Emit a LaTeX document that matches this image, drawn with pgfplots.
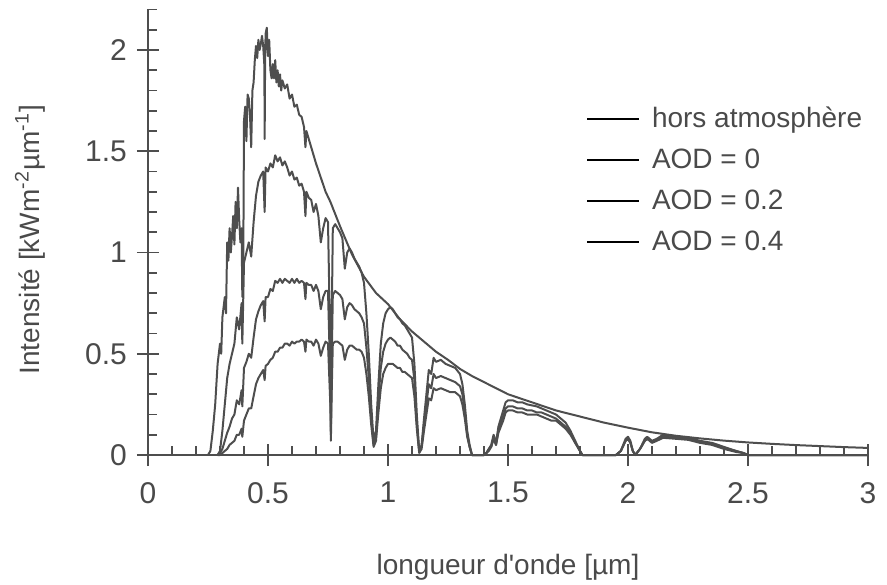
\documentclass[border=0pt]{standalone}
\usepackage{pgfplots}
\pgfplotsset{compat=1.18}
\usepackage{pgfplotstable}
\usepackage{fontspec}
\setmainfont{Liberation Sans}
\definecolor{curve}{HTML}{4E4E4E}
\definecolor{txt}{HTML}{4A4A4A}

\pgfplotstableread{
l     et
0.25  0
0.26  0.02
0.27  0.12
0.28  0.25
0.29  0.45
0.30  0.55
0.305 0.50
0.31  0.68
0.32  0.78
0.325 0.70
0.33  1.05
0.335 0.96
0.34  1.12
0.345 1.00
0.35  1.08
0.355 1.18
0.36  1.04
0.365 1.25
0.37  1.12
0.375 1.32
0.38  1.16
0.385 1.05
0.39  1.12
0.393 0.78
0.397 0.95
0.40  1.65
0.405 1.72
0.41  1.55
0.415 1.78
0.42  1.76
0.425 1.68
0.43  1.52
0.435 1.80
0.44  1.84
0.445 1.95
0.45  2.02
0.455 1.96
0.46  2.05
0.465 2.00
0.47  2.03
0.475 2.07
0.48  2.02
0.485 1.92
0.486 1.56
0.488 1.95
0.49  2.08
0.495 2.11
0.50  1.97
0.505 2.05
0.51  1.90
0.515 1.86
0.52  1.93
0.525 1.86
0.53  1.95
0.535 1.84
0.54  1.90
0.545 1.82
0.55  1.88
0.555 1.80
0.56  1.85
0.57  1.81
0.58  1.83
0.59  1.76
0.60  1.78
0.61  1.72
0.62  1.73
0.63  1.68
0.64  1.67
0.65  1.62
0.656 1.52
0.66  1.60
0.68  1.52
0.70  1.44
0.72  1.37
0.74  1.30
0.76  1.25
0.78  1.19
0.80  1.13
0.85  0.99
0.90  0.88
0.95  0.80
1.00  0.745
1.05  0.67
1.10  0.61
1.15  0.56
1.20  0.51
1.25  0.47
1.30  0.425
1.35  0.39
1.40  0.36
1.45  0.33
1.50  0.30
1.60  0.26
1.70  0.22
1.80  0.19
1.90  0.16
2.00  0.135
2.10  0.112
2.20  0.095
2.30  0.082
2.40  0.071
2.50  0.062
2.60  0.055
2.70  0.049
2.80  0.044
2.90  0.039
3.00  0.035
}\etdata

\pgfplotstableread{
l     a0    a2    a4
0.29  0     0     0
0.30  0.02  0.01  0
0.31  0.12  0.03  0.01
0.32  0.25  0.07  0.02
0.33  0.38  0.11  0.03
0.34  0.45  0.14  0.05
0.35  0.50  0.18  0.06
0.36  0.55  0.20  0.07
0.37  0.68  0.27  0.10
0.38  0.62  0.25  0.10
0.39  0.75  0.32  0.13
0.393 0.55  0.24  0.09
0.40  0.95  0.43  0.17
0.41  1.00  0.46  0.20
0.42  1.05  0.50  0.23
0.43  0.98  0.48  0.23
0.44  1.15  0.58  0.29
0.45  1.28  0.67  0.35
0.46  1.35  0.71  0.38
0.47  1.38  0.74  0.40
0.48  1.40  0.76  0.42
0.486 1.20  0.66  0.37
0.49  1.42  0.78  0.44
0.50  1.40  0.78  0.45
0.51  1.44  0.82  0.47
0.52  1.42  0.81  0.48
0.53  1.48  0.86  0.51
0.54  1.45  0.85  0.51
0.55  1.47  0.87  0.53
0.56  1.43  0.85  0.53
0.57  1.45  0.87  0.55
0.58  1.42  0.86  0.55
0.59  1.38  0.85  0.54
0.60  1.40  0.87  0.56
0.61  1.36  0.85  0.55
0.62  1.37  0.87  0.56
0.63  1.33  0.85  0.56
0.64  1.34  0.86  0.57
0.65  1.30  0.85  0.56
0.656 1.18  0.77  0.51
0.66  1.30  0.85  0.57
0.67  1.27  0.84  0.56
0.68  1.26  0.84  0.56
0.69  1.20  0.81  0.54
0.70  1.24  0.84  0.57
0.71  1.18  0.81  0.55
0.72  1.05  0.72  0.49
0.73  1.12  0.78  0.53
0.74  1.17  0.81  0.56
0.75  1.15  0.81  0.55
0.76  0.50  0.35  0.24
0.762 0.14  0.10  0.07
0.765 0.60  0.42  0.29
0.77  1.12  0.79  0.55
0.78  1.14  0.81  0.56
0.79  1.12  0.80  0.56
0.80  1.10  0.79  0.55
0.81  1.07  0.77  0.54
0.82  0.92  0.67  0.47
0.83  1.00  0.73  0.52
0.84  1.02  0.75  0.54
0.85  1.00  0.74  0.54
0.86  0.97  0.72  0.53
0.87  0.95  0.71  0.52
0.88  0.93  0.70  0.52
0.89  0.90  0.68  0.51
0.90  0.85  0.65  0.48
0.91  0.70  0.53  0.40
0.92  0.50  0.38  0.29
0.93  0.25  0.19  0.15
0.94  0.07  0.05  0.04
0.95  0.12  0.09  0.07
0.96  0.35  0.27  0.21
0.97  0.55  0.43  0.33
0.98  0.65  0.51  0.40
0.99  0.70  0.55  0.43
1.00  0.72  0.57  0.45
1.01  0.73  0.58  0.45
1.02  0.72  0.57  0.45
1.03  0.70  0.56  0.44
1.04  0.68  0.54  0.43
1.05  0.67  0.54  0.43
1.06  0.65  0.52  0.41
1.07  0.64  0.51  0.41
1.08  0.62  0.50  0.40
1.09  0.60  0.48  0.39
1.10  0.58  0.47  0.38
1.11  0.45  0.37  0.29
1.12  0.20  0.16  0.13
1.13  0.02  0.02  0.01
1.14  0.05  0.04  0.03
1.15  0.18  0.15  0.12
1.16  0.30  0.25  0.20
1.17  0.42  0.35  0.28
1.18  0.40  0.33  0.27
1.19  0.48  0.40  0.33
1.20  0.46  0.38  0.32
1.22  0.47  0.39  0.33
1.24  0.45  0.38  0.32
1.26  0.44  0.37  0.31
1.28  0.43  0.36  0.31
1.30  0.40  0.34  0.29
1.31  0.35  0.30  0.25
1.32  0.25  0.21  0.18
1.33  0.12  0.10  0.09
1.34  0.05  0.04  0.04
1.35  0     0     0
1.40  0     0     0
1.41  0.01  0.01  0.01
1.42  0.03  0.03  0.02
1.43  0.05  0.04  0.04
1.44  0.10  0.09  0.08
1.45  0.06  0.05  0.05
1.46  0.14  0.12  0.11
1.47  0.18  0.16  0.14
1.48  0.22  0.19  0.17
1.49  0.26  0.23  0.21
1.50  0.27  0.24  0.22
1.52  0.27  0.24  0.22
1.54  0.26  0.23  0.21
1.56  0.26  0.23  0.21
1.58  0.25  0.22  0.20
1.60  0.245 0.22  0.20
1.62  0.24  0.21  0.20
1.64  0.23  0.21  0.19
1.66  0.22  0.20  0.18
1.68  0.21  0.19  0.17
1.70  0.20  0.18  0.17
1.72  0.18  0.16  0.15
1.74  0.16  0.14  0.13
1.76  0.12  0.11  0.10
1.78  0.07  0.06  0.06
1.80  0.02  0.02  0.02
1.81  0     0     0
1.95  0     0     0
1.97  0.02  0.02  0.02
1.99  0.08  0.07  0.07
2.00  0.09  0.08  0.08
2.01  0.07  0.06  0.06
2.02  0.02  0.02  0.02
2.03  0     0     0
2.05  0.03  0.03  0.03
2.07  0.08  0.07  0.07
2.08  0.09  0.08  0.08
2.10  0.07  0.065 0.06
2.12  0.08  0.075 0.07
2.146 0.10  0.09  0.085
2.20  0.09  0.085 0.08
2.25  0.085 0.08  0.075
2.30  0.07  0.065 0.06
2.35  0.06  0.055 0.05
2.40  0.04  0.035 0.03
2.45  0.02  0.02  0.015
2.48  0.01  0.01  0.01
2.50  0     0     0
3.00  0     0     0
}\aoddata

\begin{document}
\begin{tikzpicture}
\useasboundingbox (-74pt,-64.5pt) rectangle (369.5pt,227.5pt);
\begin{axis}[
  at={(0pt,0pt)}, anchor=south west,
  x=120pt, y=101.25pt,
  xmin=0, xmax=3, ymin=0, ymax=2.2,
  enlargelimits=false, clip=false,
  axis lines=left,
  axis line style={-, line width=0.9pt, color=curve},
  xtick={0,0.5,...,3},
  ytick={0,0.5,...,2},
  minor xtick={0.1,0.2,...,2.95},
  minor ytick={0.1,0.2,...,2.15},
  tick style={line width=0.8pt, color=curve},
  tick align=inside,
  major tick length=11pt,
  minor tick length=4.5pt,
  every major x tick/.append style={yshift=-5.5pt},
  every major y tick/.append style={xshift=-5.5pt},
  /pgf/number format/assume math mode=true,
  ticklabel style={font=\fontsize{15}{17}\selectfont, text=txt},
  xticklabel style={yshift=-10pt},
  yticklabel style={xshift=-7pt},
  xlabel={longueur d\textquotesingle onde [µm]},
  ylabel={Intensité [kWm\textsuperscript{-2}µm\textsuperscript{-1}]},
  label style={font=\fontsize{14}{16}\selectfont, text=txt},
  xlabel style={at={(axis description cs:0.5,-0.251)}, anchor=center},
  ylabel style={at={(axis description cs:-0.164,0.483)}, anchor=center, rotate=0},
  legend style={draw=none, fill=none, at={(axis description cs:0.60,0.80)}, anchor=north west,
    font=\fontsize{14}{16}\selectfont, text=txt, row sep=5.2pt,
    /tikz/every odd column/.append style={column sep=4pt}},
  legend cell align=left,
  legend image code/.code={\draw[black, line width=0.8pt] (0pt,0pt) -- (26pt,0pt);},
]
\addplot[curve, line width=1pt, line join=round, no markers] table[x=l, y=et] {\etdata};
\addlegendentry{hors atmosphère}
\addplot[curve, line width=1pt, line join=round, no markers] table[x=l, y=a0] {\aoddata};
\addlegendentry{AOD = 0}
\addplot[curve, line width=1pt, line join=round, no markers] table[x=l, y=a2] {\aoddata};
\addlegendentry{AOD = 0.2}
\addplot[curve, line width=1pt, line join=round, no markers] table[x=l, y=a4] {\aoddata};
\addlegendentry{AOD = 0.4}
\end{axis}
\end{tikzpicture}
\end{document}
